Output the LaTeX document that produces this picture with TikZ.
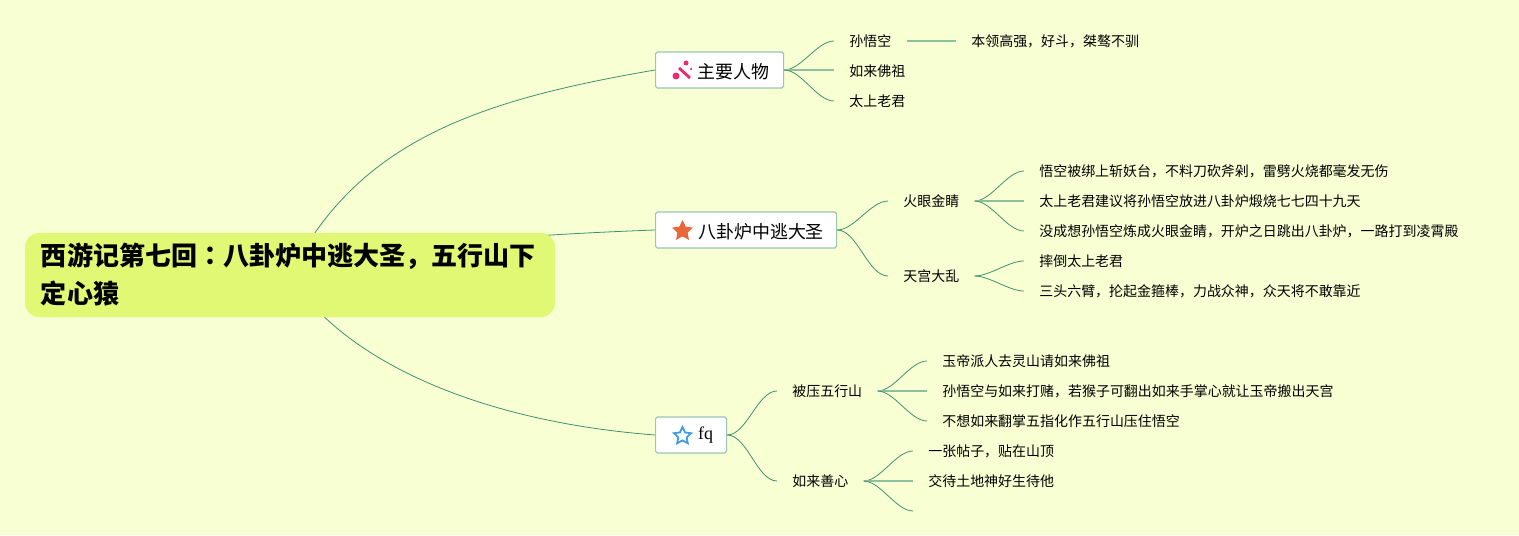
\documentclass[tikz,border=0pt]{standalone}
\usepackage{fontspec}
\setmainfont{Noto Sans CJK SC}
\newfontfamily\latinfont{Liberation Serif}
\newfontfamily\tcfont{Noto Sans CJK TC}
\usetikzlibrary{backgrounds,shapes.geometric}
\definecolor{pagebg}{HTML}{F7FFD3}
\definecolor{rootfill}{HTML}{E0F873}
\definecolor{linkgreen}{HTML}{3F9070}
\definecolor{flatgreen}{HTML}{8FBF9F}
\definecolor{boxedge}{HTML}{9CC4B4}
\definecolor{wandpink}{HTML}{EE2A6B}
\definecolor{staror}{HTML}{E8683A}
\definecolor{starblue}{HTML}{3D9BE0}
\tikzset{
    rootbox/.style={fill=rootfill,rounded corners=8pt,align=left,text width=9.96cm,minimum width=10.6cm,
        minimum height=1.68cm,inner sep=0pt,font=\fontsize{14.8}{21.6}\selectfont\bfseries},
    mainbox/.style={draw=boxedge,fill=white,line width=0.7pt,rounded corners=1pt,minimum height=0.72cm,
        inner sep=0pt,font=\fontsize{10.2}{12}\selectfont,anchor=west},
    cjkmain/.style={text height=11pt,text depth=1pt},
    leaf/.style={font=\fontsize{7.95}{10}\selectfont,inner xsep=0.3cm,inner ysep=0pt,anchor=west},
    link/.style={draw=linkgreen,line width=0.45pt},
    flatlink/.style={draw=flatgreen,line width=0.8pt},
    branch/.style={link,out=0,in=180,looseness=0.75},
    iconstar/.style={star,star points=5,star point ratio=2.05,minimum size=0.44cm,inner sep=0pt}
}
\begin{document}
\begin{tikzpicture}
    \useasboundingbox (0,0) rectangle (30.38,10.7);
    \node[rootbox] (root) at (5.8,5.2) {西游记第七回{\tcfont ：}八卦炉中逃大圣，五行山下\\定心猿};
    % three main topics, text sits to the right of the icon
    \node[mainbox,cjkmain,minimum width=2.56cm] (people) at (13.1,9.3) {\hspace*{0.84cm}主要人物\hspace*{0.28cm}};
    \node[mainbox,cjkmain,minimum width=3.62cm] (furnace) at (13.1,6.1) {\hspace*{0.84cm}八卦炉中逃大圣\hspace*{0.24cm}};
    \node[mainbox,minimum width=1.42cm] (fq) at (13.1,2.0) {\hspace*{0.84cm}{\latinfont fq}\hspace*{0.26cm}};
    \node[iconstar,fill=staror] (staricon) at (13.65,6.08) {};
    \node[iconstar,draw=starblue,line width=1pt,minimum size=0.36cm] (blueicon) at (13.65,1.98) {};
    % wand icon
    \draw[wandpink,line width=1.6pt] (13.58,9.34) -- (13.8,9.14);
    \fill[wandpink] (13.52,9.18) circle (0.07);
    \fill[wandpink] (13.72,9.44) circle (0.05);
    \fill[wandpink] (13.82,9.32) circle (0.025);
    % people
    \node[leaf] (sun) at (16.68,9.88) {孙悟空};
    \node[leaf] (rulai) at (16.68,9.28) {如来佛祖};
    \node[leaf] (laojun) at (16.68,8.68) {太上老君};
    \node[leaf] (sundesc) at (19.12,9.88) {本领高强，好斗，桀骜不驯};
    % furnace
    \node[leaf] (huoyan) at (17.76,6.68) {火眼金睛};
    \node[leaf] (tiangong) at (17.76,5.18) {天宫大乱};
    \node[leaf] (hya) at (20.48,7.28) {悟空被绑上斩妖台，不料刀砍斧剁，雷劈火烧都毫发无伤};
    \node[leaf] (hyb) at (20.48,6.68) {太上老君建议将孙悟空放进八卦炉煅烧七七四十九天};
    \node[leaf] (hyc) at (20.48,6.08) {没成想孙悟空炼成火眼金睛，开炉之日跳出八卦炉，一路打到凌霄殿};
    \node[leaf] (tga) at (20.48,5.48) {摔倒太上老君};
    \node[leaf] (tgb) at (20.48,4.88) {三头六臂，抡起金箍棒，力战众神，众天将不敢靠近};
    % fq
    \node[leaf] (yaping) at (15.54,2.88) {被压五行山};
    \node[leaf] (shanxin) at (15.54,1.08) {如来善心};
    \node[leaf] (ypa) at (18.54,3.48) {玉帝派人去灵山请如来佛祖};
    \node[leaf] (ypb) at (18.54,2.88) {孙悟空与如来打赌，若猴子可翻出如来手掌心就让玉帝搬出天宫};
    \node[leaf] (ypc) at (18.54,2.28) {不想如来翻掌五指化作五行山压住悟空};
    \node[leaf] (sxa) at (18.26,1.68) {一张帖子，贴在山顶};
    \node[leaf] (sxb) at (18.26,1.08) {交待土地神好生待他};
    \coordinate (sxc) at (18.26,0.48);
    \begin{scope}[on background layer]
        \fill[pagebg] (0,0) rectangle (30.38,10.7);
        \draw[link] (root.center) .. controls (7.15,7.9) and (9.6,8.7) .. (people.west);
        \draw[link] (root.center) .. controls (7.5,5.8) and (10.4,6.0) .. (furnace.west);
        \draw[link] (root.center) .. controls (6.7,3.7) and (9.2,2.3) .. (fq.west);
        \draw[branch] (people.east) to (sun.west);
        \draw[flatlink] (people.east) -- (rulai.west |- people.east);
        \draw[branch] (people.east) to (laojun.west);
        \draw[flatlink] (sun.east) -- (sundesc.west);
        \draw[branch] (furnace.east) to (huoyan.west);
        \draw[branch] (furnace.east) to (tiangong.west);
        \draw[branch] (huoyan.east) to (hya.west);
        \draw[flatlink] (huoyan.east) -- (hyb.west);
        \draw[branch] (huoyan.east) to (hyc.west);
        \draw[branch] (tiangong.east) to (tga.west);
        \draw[branch] (tiangong.east) to (tgb.west);
        \draw[branch] (fq.east) to (yaping.west);
        \draw[branch] (fq.east) to (shanxin.west);
        \draw[branch] (yaping.east) to (ypa.west);
        \draw[flatlink] (yaping.east) -- (ypb.west);
        \draw[branch] (yaping.east) to (ypc.west);
        \draw[branch] (shanxin.east) to (sxa.west);
        \draw[flatlink] (shanxin.east) -- (sxb.west);
        \draw[branch] (shanxin.east) to (sxc);
    \end{scope}
\end{tikzpicture}
\end{document}
